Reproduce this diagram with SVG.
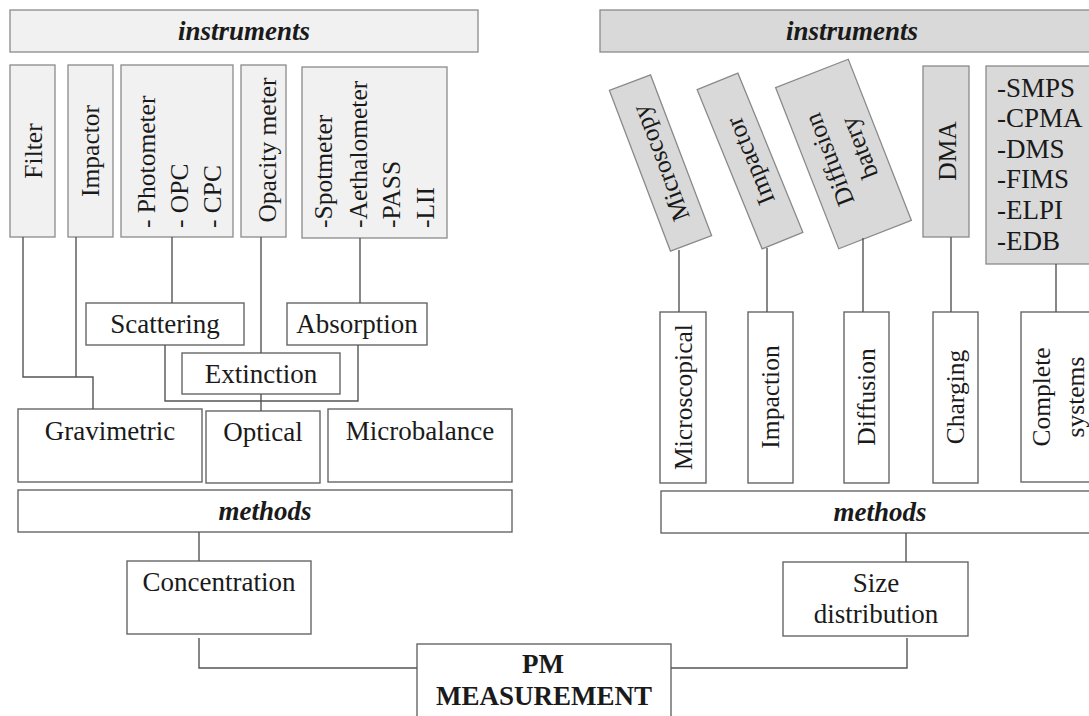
<svg xmlns="http://www.w3.org/2000/svg" width="1089" height="716" viewBox="0 0 1089 716">
<style>
text{font-family:"Liberation Serif","Times New Roman",serif;font-size:27px;fill:#1a1a1a}
.v{font-size:25.5px}
.hd{font-weight:bold;font-style:italic}
.b{font-weight:bold}
.m{text-anchor:middle}
.li{fill:#f1f1f1;stroke:#8a8a8a;stroke-width:1.3}
.ri{fill:#d9d9d9;stroke:#8a8a8a;stroke-width:1.3}
.mb{fill:#fff;stroke:#666;stroke-width:1.4}
.cn path{fill:none;stroke:#555;stroke-width:1.4}
</style>
<rect width="1089" height="716" fill="#fff"/>

<!-- left side -->
<g id="instrL"><rect class="li" x="10" y="10" width="468" height="42"/><text class="hd m" x="244" y="40">instruments</text></g>
<g id="filter"><rect class="li" x="10" y="65" width="45" height="172"/><text class="v m" transform="translate(42,151) rotate(-90)">Filter</text></g>
<g id="impactorL"><rect class="li" x="68" y="65" width="45" height="172"/><text class="v m" transform="translate(99,151) rotate(-90)">Impactor</text></g>
<g id="photometer"><rect class="li" x="121" y="65" width="112" height="172"/>
<text class="v" transform="translate(155,228) rotate(-90)">- Photometer</text>
<text class="v" transform="translate(188,228) rotate(-90)">- OPC</text>
<text class="v" transform="translate(221,228) rotate(-90)">- CPC</text></g>
<g id="opacity"><rect class="li" x="241" y="65" width="45" height="172"/><text class="v m" transform="translate(276,150) rotate(-90)">Opacity meter</text></g>
<g id="spotmeter"><rect class="li" x="302" y="67" width="145" height="171"/>
<text class="v" transform="translate(332,228) rotate(-90)">-Spotmeter</text>
<text class="v" transform="translate(367,228) rotate(-90)">-Aethalometer</text>
<text class="v" transform="translate(400,228) rotate(-90)">-PASS</text>
<text class="v" transform="translate(434,228) rotate(-90)">-LII</text></g>
<g id="scattering"><rect class="mb" x="86" y="303" width="158" height="42"/><text class="m" x="165" y="333">Scattering</text></g>
<g id="absorption"><rect class="mb" x="287" y="303" width="140" height="42"/><text class="m" x="357" y="333">Absorption</text></g>
<g id="extinction"><rect class="mb" x="182" y="353" width="158" height="41"/><text class="m" x="261" y="383">Extinction</text></g>
<g id="gravimetric"><rect class="mb" x="18" y="409" width="184" height="73"/><text class="m" x="110" y="440">Gravimetric</text></g>
<g id="optical"><rect class="mb" x="206" y="411" width="114" height="72"/><text class="m" x="263" y="441">Optical</text></g>
<g id="microbalance"><rect class="mb" x="328" y="409" width="184" height="73"/><text class="m" x="420" y="440">Microbalance</text></g>
<g id="methodsL"><rect class="mb" x="18" y="490" width="494" height="42"/><text class="hd m" x="265" y="520">methods</text></g>
<g id="concentration"><rect class="mb" x="127" y="561" width="184" height="73"/><text class="m" x="219" y="591">Concentration</text></g>

<!-- right side -->
<g id="instrR"><rect class="ri" x="600" y="10" width="500" height="42"/><text class="hd m" x="852" y="40">instruments</text></g>
<g id="microscopy" transform="translate(660.5,163) rotate(-20.8)"><rect class="ri" x="-22" y="-86" width="44" height="172"/><text class="v m" transform="translate(8.5,0) rotate(-90)">Microscopy</text></g>
<g id="impactorR" transform="translate(750,161) rotate(-22.2)"><rect class="ri" x="-22" y="-86" width="44" height="172"/><text class="v m" transform="translate(8.5,0) rotate(-90)">Impactor</text></g>
<g id="diffbat" transform="translate(843.5,154) rotate(-21.4)"><rect class="ri" x="-39" y="-86.5" width="78" height="173"/><text class="v m" transform="translate(-7,0) rotate(-90)">Diffusion</text><text class="v m" transform="translate(25,0) rotate(-90)">batery</text></g>
<g id="dma"><rect class="ri" x="923" y="66" width="46" height="171"/><text class="v m" transform="translate(956,151) rotate(-90)">DMA</text></g>
<g id="complete"><rect class="ri" x="986" y="66" width="120" height="198"/>
<text x="997" y="97">-SMPS</text><text x="997" y="127">-CPMA</text><text x="997" y="158">-DMS</text><text x="997" y="188">-FIMS</text><text x="997" y="219">-ELPI</text><text x="997" y="250">-EDB</text></g>
<g id="microscopical"><rect class="mb" x="660" y="312" width="46" height="171"/><text class="v m" transform="translate(692,397) rotate(-90)">Microscopical</text></g>
<g id="impaction"><rect class="mb" x="748" y="312" width="45" height="171"/><text class="v m" transform="translate(779,397) rotate(-90)">Impaction</text></g>
<g id="diffusion"><rect class="mb" x="844" y="312" width="45" height="171"/><text class="v m" transform="translate(875,397) rotate(-90)">Diffusion</text></g>
<g id="charging"><rect class="mb" x="933" y="312" width="45" height="171"/><text class="v m" transform="translate(964,397) rotate(-90)">Charging</text></g>
<g id="completesys"><rect class="mb" x="1021" y="312" width="90" height="170"/><text class="v m" transform="translate(1050,397) rotate(-90)">Complete</text><text class="v m" transform="translate(1084,397) rotate(-90)">systems</text></g>
<g id="methodsR"><rect class="mb" x="661" y="491" width="450" height="42"/><text class="hd m" x="880" y="521">methods</text></g>
<g id="sizedist"><rect class="mb" x="783" y="562" width="185" height="74"/><text class="m" x="876" y="592">Size</text><text class="m" x="876" y="623">distribution</text></g>

<g id="pm"><rect class="mb" x="417" y="644" width="254" height="90"/><text class="b m" x="543" y="673">PM</text><text class="b m" x="544" y="705">MEASUREMENT</text></g>

<g id="connectors" class="cn">
<path d="M23,237V377H93V409"/>
<path d="M76,237V377"/>
<path d="M172,237V303"/>
<path d="M261,237V353"/>
<path d="M360,238V303"/>
<path d="M165,345V401H358V345"/>
<path d="M261,394V411"/>
<path d="M199,532V561"/>
<path d="M199,638V668H417"/>
<path d="M679,250V312"/>
<path d="M767,248V312"/>
<path d="M863,238V312"/>
<path d="M951,237V312"/>
<path d="M1056,264V312"/>
<path d="M906,533V562"/>
<path d="M907,638V668H671"/>
</g>
</svg>
